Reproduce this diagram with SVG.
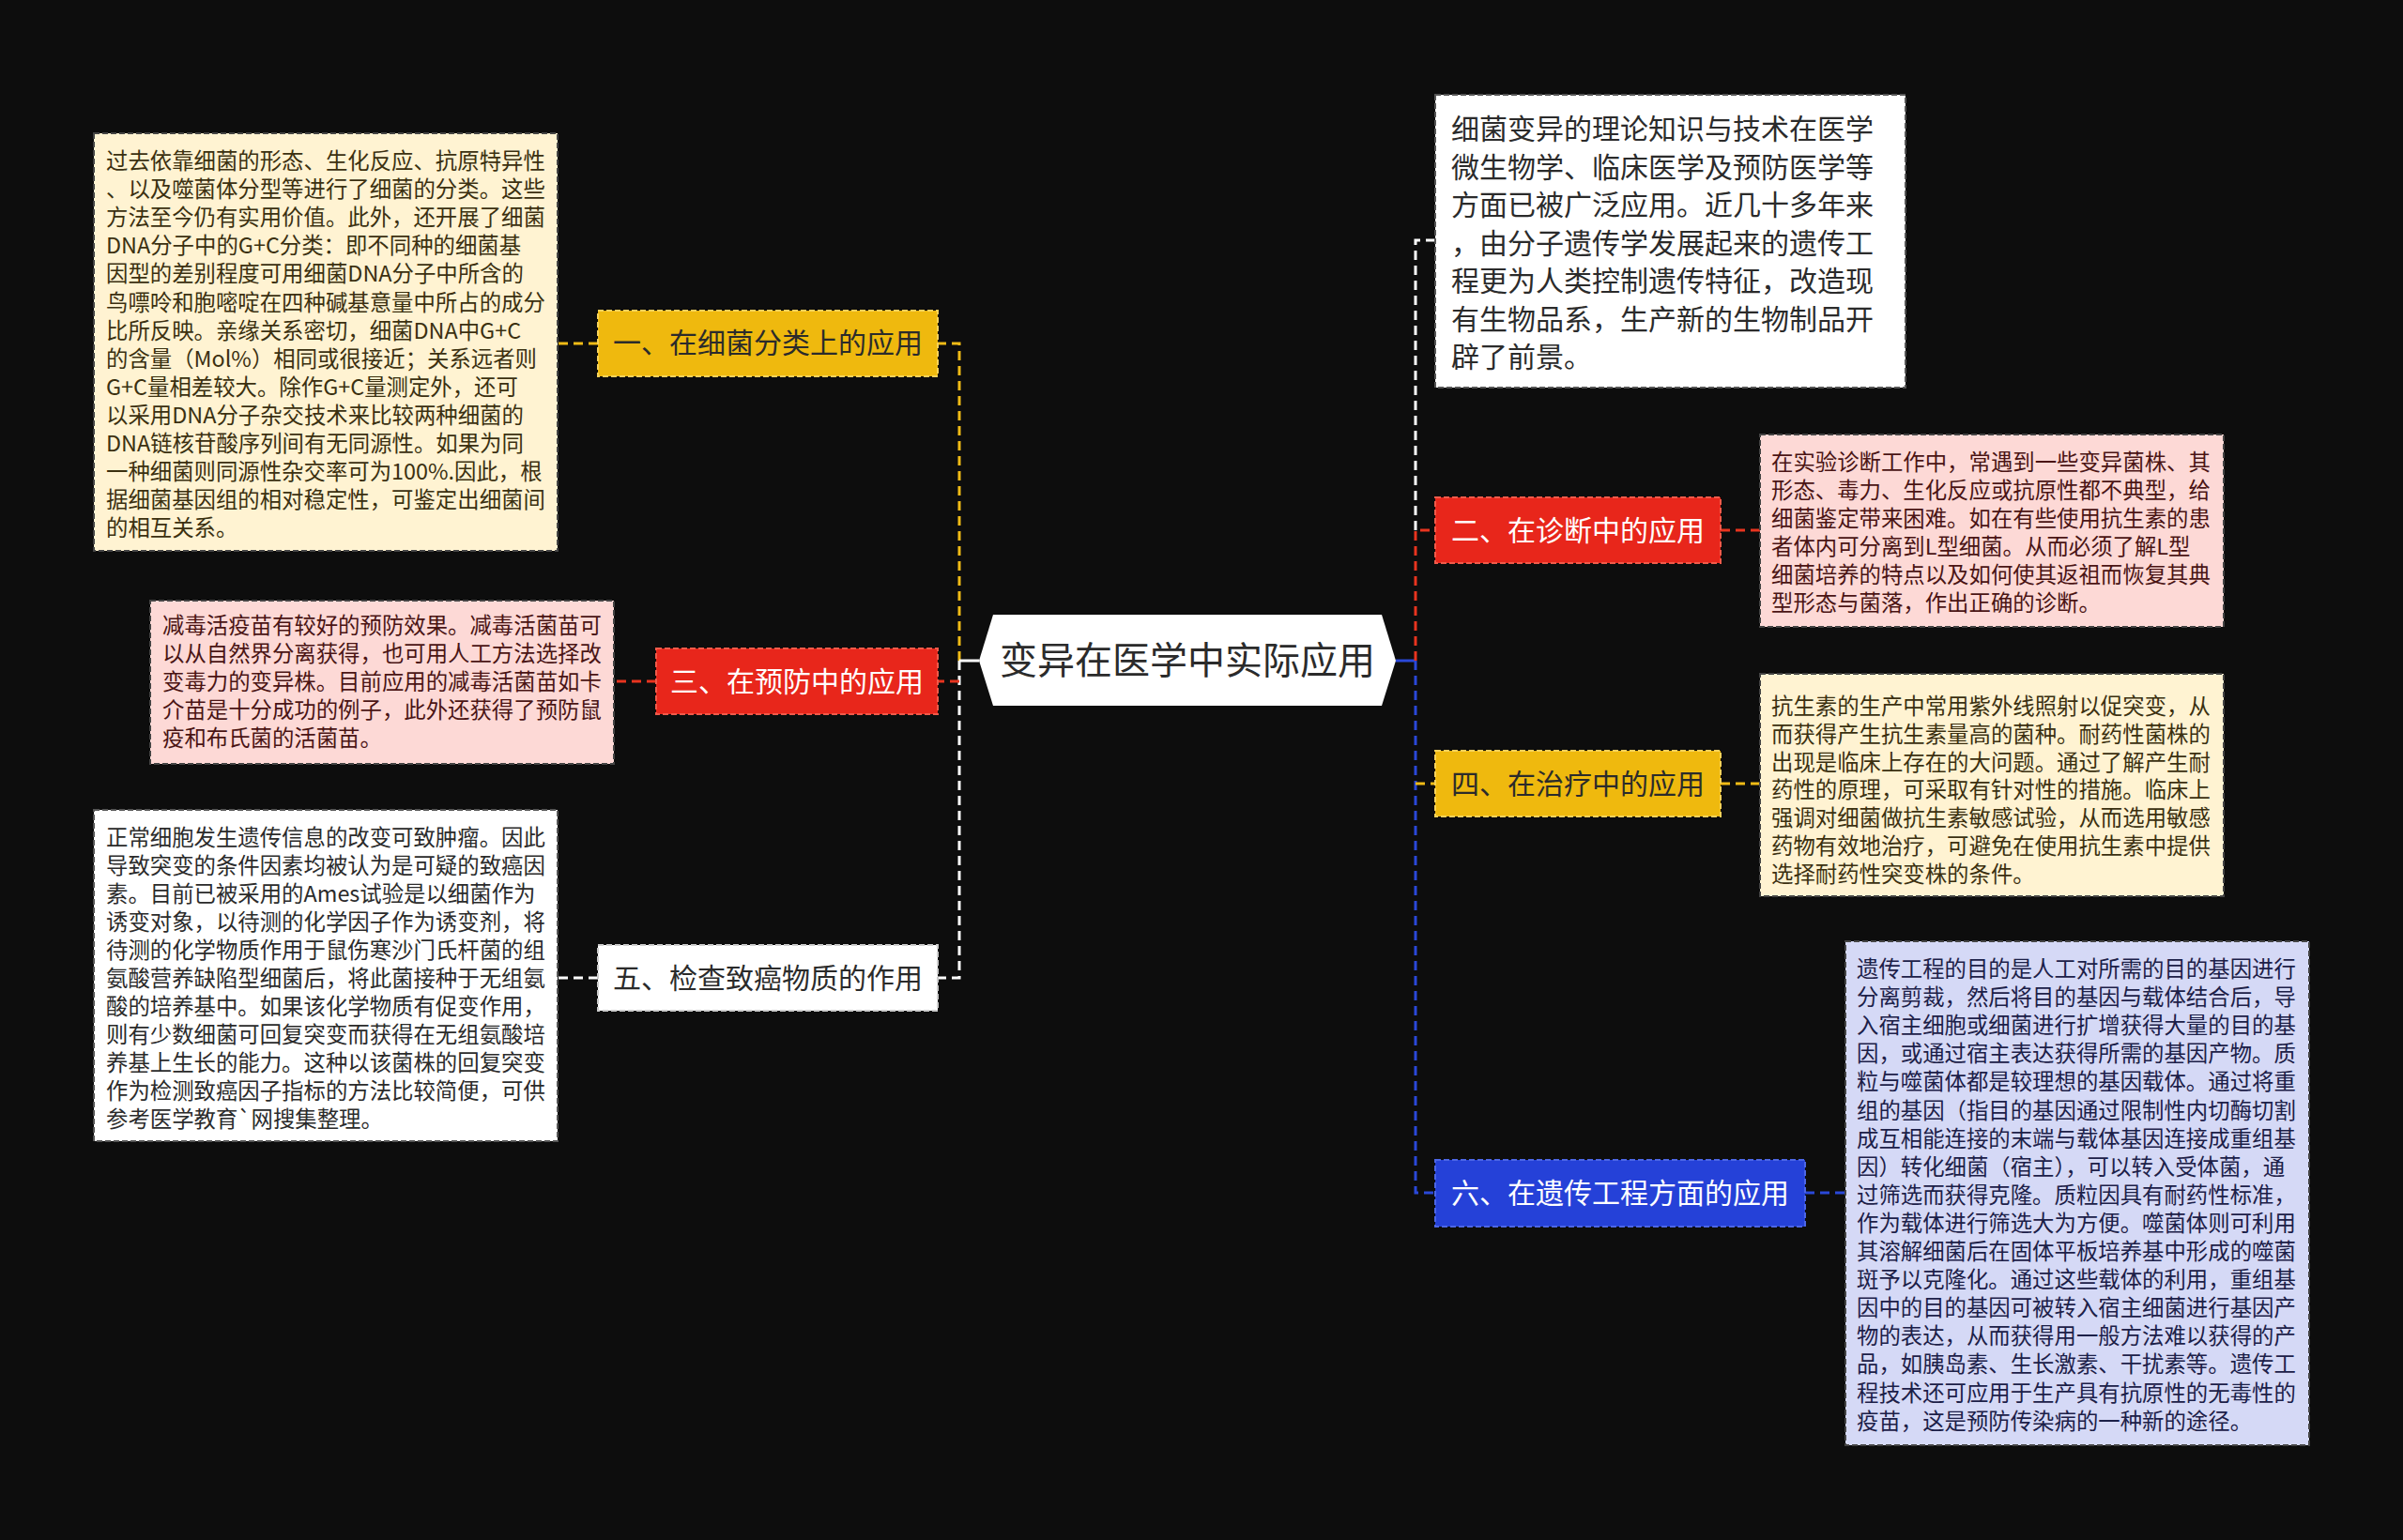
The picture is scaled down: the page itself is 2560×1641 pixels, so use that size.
<svg xmlns="http://www.w3.org/2000/svg" width="2560" height="1641" viewBox="0 0 2560 1641">
<style>
text{font-family:"Noto Sans CJK SC","Noto Sans",sans-serif}
.d{font-size:23.4px}
.b{font-size:30px;text-anchor:middle}
.c{fill:none;stroke-width:3;stroke-dasharray:10 6}
.box{stroke-width:2;stroke-dasharray:6 3}
</style>
<rect width="2560" height="1641" fill="#0d0d0d"/>
<g id="connectors">
<path class="c" stroke="#f0bb16" d="M1022,704 V366 H999"/>
<path class="c" stroke="#ffffff" d="M1022,704 V1042 H999"/>
<path class="c" stroke="#e8341f" d="M1022,726 H999"/>
<path d="M1043,704 H1022" stroke="#ffffff" stroke-width="3" fill="none"/>
<path class="c" stroke="#f0bb16" d="M637,366 H594"/>
<path class="c" stroke="#e8341f" d="M699,726 H654"/>
<path class="c" stroke="#ffffff" d="M637,1042 H594"/>
<path d="M1487,704 H1508" stroke="#2a48d8" stroke-width="3" fill="none"/>
<path class="c" stroke="#ffffff" d="M1508,565 V256 H1529"/>
<path class="c" stroke="#e8341f" d="M1508,704 V565 H1529"/>
<path class="c" stroke="#2a48d8" d="M1508,704 V1271 H1529"/>
<path class="c" stroke="#f0bb16" d="M1508,835 H1529"/>
<path class="c" stroke="#e8341f" d="M1833,565 H1875"/>
<path class="c" stroke="#f0bb16" d="M1833,835 H1875"/>
<path class="c" stroke="#2a48d8" d="M1923,1271 H1966"/>
</g>
<g id="root">
<polygon points="1043,704 1058,655 1472,655 1487,704 1472,752 1058,752" fill="#ffffff"/>
<text x="1265" y="718" font-size="40" text-anchor="middle" fill="#2b2b2b">变异在医学中实际应用</text>
</g>
<g id="b1">
<rect class="box" x="637" y="331" width="362" height="70" fill="#efb90e" stroke="#f7d25a"/>
<text class="b" x="818" y="376" fill="#2b2b2b">一、在细菌分类上的应用</text>
</g>
<g id="b3">
<rect class="box" x="699" y="691" width="300" height="70" fill="#e8261b" stroke="#f05a4a"/>
<text class="b" x="849" y="736.5" fill="#ffffff">三、在预防中的应用</text>
</g>
<g id="b5">
<rect class="box" x="637" y="1007" width="362" height="70" fill="#ffffff" stroke="#cccccc"/>
<text class="b" x="818" y="1052.5" fill="#2b2b2b">五、检查致癌物质的作用</text>
</g>
<g id="b2">
<rect class="box" x="1529" y="530" width="304" height="70" fill="#e8261b" stroke="#f05a4a"/>
<text class="b" x="1681" y="575.5" fill="#ffffff">二、在诊断中的应用</text>
</g>
<g id="b4">
<rect class="box" x="1529" y="800" width="304" height="70" fill="#efb90e" stroke="#f7d25a"/>
<text class="b" x="1681" y="845.5" fill="#2b2b2b">四、在治疗中的应用</text>
</g>
<g id="b6">
<rect class="box" x="1529" y="1236" width="394" height="71" fill="#2541d8" stroke="#4c66e6"/>
<text class="b" x="1726" y="1282" fill="#ffffff">六、在遗传工程方面的应用</text>
</g>
<g id="t1">
<rect class="box" x="100" y="142" width="494" height="445" fill="#fff3d2" stroke="#444"/>
<text class="d" fill="#3b3010">
<tspan x="113" y="180">过去依靠细菌的形态、生化反应、抗原特异性</tspan>
<tspan x="113" y="210.1">、以及噬菌体分型等进行了细菌的分类。这些</tspan>
<tspan x="113" y="240.2">方法至今仍有实用价值。此外，还开展了细菌</tspan>
<tspan x="113" y="270.3">DNA分子中的G+C分类：即不同种的细菌基</tspan>
<tspan x="113" y="300.4">因型的差别程度可用细菌DNA分子中所含的</tspan>
<tspan x="113" y="330.5">鸟嘌呤和胞嘧啶在四种碱基意量中所占的成分</tspan>
<tspan x="113" y="360.6">比所反映。亲缘关系密切，细菌DNA中G+C</tspan>
<tspan x="113" y="390.7">的含量（Mol%）相同或很接近；关系远者则</tspan>
<tspan x="113" y="420.8">G+C量相差较大。除作G+C量测定外，还可</tspan>
<tspan x="113" y="450.9">以采用DNA分子杂交技术来比较两种细菌的</tspan>
<tspan x="113" y="481">DNA链核苷酸序列间有无同源性。如果为同</tspan>
<tspan x="113" y="511.1">一种细菌则同源性杂交率可为100%.因此，根</tspan>
<tspan x="113" y="541.2">据细菌基因组的相对稳定性，可鉴定出细菌间</tspan>
<tspan x="113" y="571.3">的相互关系。</tspan>
</text>
</g>
<g id="t3">
<rect class="box" x="160" y="640" width="494" height="174" fill="#fdd9d6" stroke="#444"/>
<text class="d" fill="#4a1414">
<tspan x="173" y="675">减毒活疫苗有较好的预防效果。减毒活菌苗可</tspan>
<tspan x="173" y="705">以从自然界分离获得，也可用人工方法选择改</tspan>
<tspan x="173" y="735">变毒力的变异株。目前应用的减毒活菌苗如卡</tspan>
<tspan x="173" y="765">介苗是十分成功的例子，此外还获得了预防鼠</tspan>
<tspan x="173" y="795">疫和布氏菌的活菌苗。</tspan>
</text>
</g>
<g id="t5">
<rect class="box" x="100" y="863" width="494" height="353" fill="#ffffff" stroke="#555"/>
<text class="d" fill="#2b2b2b">
<tspan x="113" y="901">正常细胞发生遗传信息的改变可致肿瘤。因此</tspan>
<tspan x="113" y="931">导致突变的条件因素均被认为是可疑的致癌因</tspan>
<tspan x="113" y="961">素。目前已被采用的Ames试验是以细菌作为</tspan>
<tspan x="113" y="991">诱变对象，以待测的化学因子作为诱变剂，将</tspan>
<tspan x="113" y="1021">待测的化学物质作用于鼠伤寒沙门氏杆菌的组</tspan>
<tspan x="113" y="1051">氨酸营养缺陷型细菌后，将此菌接种于无组氨</tspan>
<tspan x="113" y="1081">酸的培养基中。如果该化学物质有促变作用，</tspan>
<tspan x="113" y="1111">则有少数细菌可回复突变而获得在无组氨酸培</tspan>
<tspan x="113" y="1141">养基上生长的能力。这种以该菌株的回复突变</tspan>
<tspan x="113" y="1171">作为检测致癌因子指标的方法比较简便，可供</tspan>
<tspan x="113" y="1201">参考医学教育`网搜集整理。</tspan>
</text>
</g>
<g id="t0">
<rect class="box" x="1529" y="101" width="501" height="312" fill="#ffffff" stroke="#555"/>
<text font-size="30" fill="#2b2b2b">
<tspan x="1546" y="148">细菌变异的理论知识与技术在医学</tspan>
<tspan x="1546" y="188.5">微生物学、临床医学及预防医学等</tspan>
<tspan x="1546" y="229">方面已被广泛应用。近几十多年来</tspan>
<tspan x="1546" y="269.5">，由分子遗传学发展起来的遗传工</tspan>
<tspan x="1546" y="310">程更为人类控制遗传特征，改造现</tspan>
<tspan x="1546" y="350.5">有生物品系，生产新的生物制品开</tspan>
<tspan x="1546" y="391">辟了前景。</tspan>
</text>
</g>
<g id="t2">
<rect class="box" x="1875" y="463" width="494" height="205" fill="#fdd9d6" stroke="#444"/>
<text class="d" fill="#4a1414">
<tspan x="1887" y="501">在实验诊断工作中，常遇到一些变异菌株、其</tspan>
<tspan x="1887" y="531">形态、毒力、生化反应或抗原性都不典型，给</tspan>
<tspan x="1887" y="561">细菌鉴定带来困难。如在有些使用抗生素的患</tspan>
<tspan x="1887" y="591">者体内可分离到L型细菌。从而必须了解L型</tspan>
<tspan x="1887" y="621">细菌培养的特点以及如何使其返祖而恢复其典</tspan>
<tspan x="1887" y="651">型形态与菌落，作出正确的诊断。</tspan>
</text>
</g>
<g id="t4">
<rect class="box" x="1875" y="718" width="494" height="237" fill="#fff3d2" stroke="#444"/>
<text class="d" fill="#3b3010">
<tspan x="1887" y="761">抗生素的生产中常用紫外线照射以促突变，从</tspan>
<tspan x="1887" y="790.8">而获得产生抗生素量高的菌种。耐药性菌株的</tspan>
<tspan x="1887" y="820.6">出现是临床上存在的大问题。通过了解产生耐</tspan>
<tspan x="1887" y="850.4">药性的原理，可采取有针对性的措施。临床上</tspan>
<tspan x="1887" y="880.2">强调对细菌做抗生素敏感试验，从而选用敏感</tspan>
<tspan x="1887" y="910">药物有效地治疗，可避免在使用抗生素中提供</tspan>
<tspan x="1887" y="939.8">选择耐药性突变株的条件。</tspan>
</text>
</g>
<g id="t6">
<rect class="box" x="1966" y="1003" width="494" height="537" fill="#d5d9f6" stroke="#444"/>
<text class="d" fill="#1c2048">
<tspan x="1978" y="1041">遗传工程的目的是人工对所需的目的基因进行</tspan>
<tspan x="1978" y="1071.1">分离剪裁，然后将目的基因与载体结合后，导</tspan>
<tspan x="1978" y="1101.2">入宿主细胞或细菌进行扩增获得大量的目的基</tspan>
<tspan x="1978" y="1131.3">因，或通过宿主表达获得所需的基因产物。质</tspan>
<tspan x="1978" y="1161.4">粒与噬菌体都是较理想的基因载体。通过将重</tspan>
<tspan x="1978" y="1191.5">组的基因（指目的基因通过限制性内切酶切割</tspan>
<tspan x="1978" y="1221.6">成互相能连接的末端与载体基因连接成重组基</tspan>
<tspan x="1978" y="1251.7">因）转化细菌（宿主），可以转入受体菌，通</tspan>
<tspan x="1978" y="1281.8">过筛选而获得克隆。质粒因具有耐药性标准，</tspan>
<tspan x="1978" y="1311.9">作为载体进行筛选大为方便。噬菌体则可利用</tspan>
<tspan x="1978" y="1342">其溶解细菌后在固体平板培养基中形成的噬菌</tspan>
<tspan x="1978" y="1372.1">斑予以克隆化。通过这些载体的利用，重组基</tspan>
<tspan x="1978" y="1402.2">因中的目的基因可被转入宿主细菌进行基因产</tspan>
<tspan x="1978" y="1432.3">物的表达，从而获得用一般方法难以获得的产</tspan>
<tspan x="1978" y="1462.4">品，如胰岛素、生长激素、干扰素等。遗传工</tspan>
<tspan x="1978" y="1492.5">程技术还可应用于生产具有抗原性的无毒性的</tspan>
<tspan x="1978" y="1522.6">疫苗，这是预防传染病的一种新的途径。</tspan>
</text>
</g>
</svg>
